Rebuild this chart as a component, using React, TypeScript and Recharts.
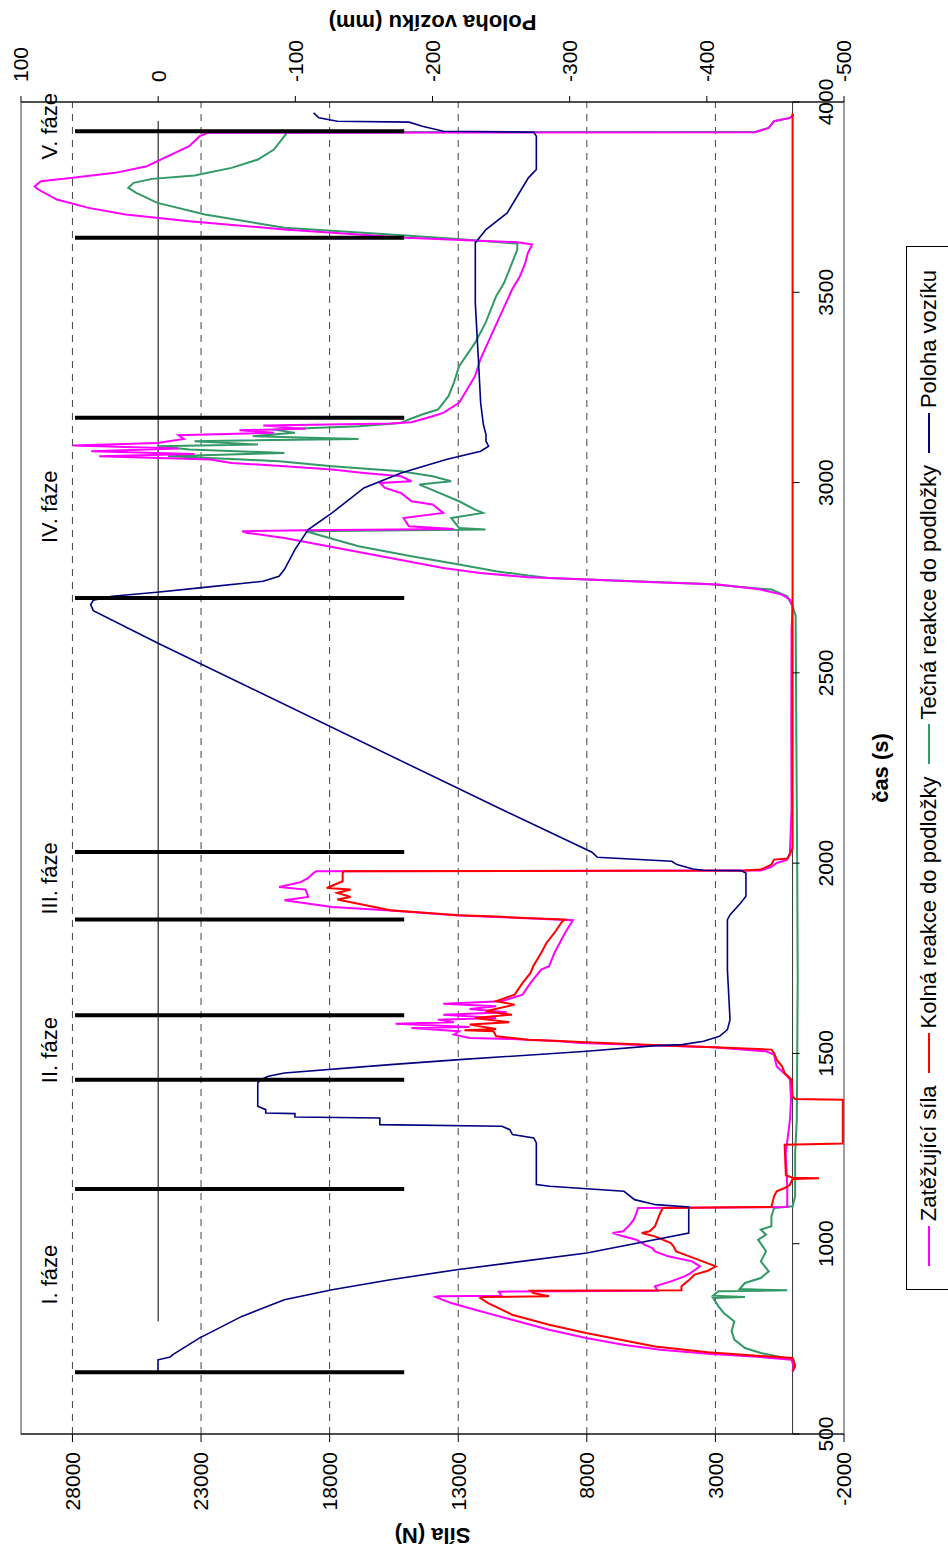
import React from 'react';
import {
  ComposedChart,
  Line,
  XAxis,
  YAxis,
  ReferenceLine,
  ReferenceArea,
  ReferenceDot,
  Legend,
} from 'recharts';

const FONT = '"Liberation Sans", Arial, Helvetica, sans-serif';

// ---------------- layout (original, un-rotated chart) ----------------
const W = 1553;
const H = 948;
const M_TOP = 21;
const PLOT_BOTTOM = 844;
const LEFT_W = 119;
const RIGHT_W = 102;
const X_H = H - PLOT_BOTTOM;

// ---------------- axes ----------------
const casDomain = [500, 4000];
const casTicks = [500, 1000, 1500, 2000, 2500, 3000, 3500, 4000];
const silaDomain = [-2000, 30000];
const silaTicks = [-2000, 3000, 8000, 13000, 18000, 23000, 28000];
const silaGrid = [3000, 8000, 13000, 18000, 23000, 28000];
const polohaDomain = [-500, 100];
const polohaTicks = [-500, -400, -300, -200, -100, 0, 100];

// ---------------- phases ----------------
const hraniceFazi = [662, 1144, 1431, 1600, 1852, 2029, 2697, 3170, 3643, 3923];
const faziOd = 15100;
const faziDo = 27900;
const fazeNazvy = ['I. fáze', 'II. fáze', 'III. fáze', 'IV. fáze', 'V. fáze'];
const fazeZacatek = [840, 1422, 1865, 2841, 3849];
const fazePopisekSila = 28600;
const nulovaPolohaUsek = [796, 3950];

// ---------------- series: [čas (s), hodnota] ----------------
const zatezujiciSila: [number, number][] = [
  [664.6, 0], [678, -40], [695, 40], [702, 1235], [711, 3290], [721.6, 5145], [734.7, 6586],
  [752, 8026], [774, 9467], [800, 10907], [826.7, 12348], [844, 13274], [860, 13890],
  [862, 13790], [863.5, 11320], [874, 11420], [876.6, 5250], [888, 5350], [901, 4730],
  [914, 4200], [921, 4010], [940.6, 3600], [953.7, 3910], [966.8, 4836], [980, 5350],
  [988.7, 5450], [997.5, 5760], [1010.6, 6070], [1019.4, 6586], [1028, 6997], [1032.5, 6586],
  [1045.7, 6380], [1063, 6174], [1080.7, 6070], [1093.9, 6009], [1096.5, 206], [1150, 206],
  [1238, 268], [1269, 206], [1326, 100], [1380, 60], [1431, 100], [1439.9, 206], [1453, 412],
  [1466, 617], [1496.8, 720], [1505.6, 1029], [1516, 3087], [1527.5, 8232], [1531.9, 9055],
  [1538, 10907], [1540.6, 12554], [1549.4, 13171], [1558.2, 12965], [1566.9, 14818],
  [1569.5, 12554], [1578.3, 15435], [1581.8, 13171], [1588.8, 13790], [1593.2, 11525],
  [1601.9, 13583], [1608, 11113], [1616.8, 12554], [1623.8, 11525], [1630.8, 13583],
  [1637, 11320], [1654.5, 10496], [1685.2, 10187], [1720.2, 9776], [1729, 9467], [1764, 9261],
  [1790.3, 9055], [1816.6, 8849], [1849.9, 8541], [1858.6, 11525], [1862.1, 12965],
  [1875.3, 15641], [1885, 17905], [1902.4, 19757], [1911.2, 18831], [1930.5, 18934],
  [1937.5, 19963], [1949.7, 19139], [1961.1, 18831], [1974.3, 18625], [1978.6, 18522],
  [1980.4, 1235], [1990, 823], [2000.5, 617], [2009.3, 206], [2026.8, 103], [2140.7, 41],
  [2350, 50], [2614, 40], [2675, 0], [2692.5, 103], [2705.6, 412], [2718.8, 1235],
  [2731.9, 2881], [2738, 5351], [2749.4, 9467], [2751.2, 10290], [2762.6, 12142],
  [2775.7, 13583], [2802, 15641], [2828.3, 17699], [2854.6, 19757], [2867.7, 21197],
  [2872.1, 21403], [2874.7, 18934], [2878.2, 13171], [2885.2, 14921], [2907.1, 15126],
  [2920.3, 13583], [2942.2, 13994], [2950.9, 14818], [2972.8, 15229], [2986, 15847],
  [2999.1, 16052], [3003.5, 14818], [3016.6, 15229], [3025.4, 16670], [3034.2, 17905],
  [3042.9, 19757], [3051.7, 21815], [3060.5, 22638], [3069.2, 26960], [3075.4, 23255],
  [3082.4, 27268], [3089.4, 23873], [3097.3, 27988], [3104.3, 24696], [3114.8, 23667],
  [3124.4, 23873], [3130.6, 20168], [3137.6, 21506], [3141.1, 18934], [3149.8, 20580],
  [3155.1, 15641], [3158.6, 14818], [3174.4, 13994], [3183.1, 13583], [3209.4, 12965],
  [3279.5, 12348], [3323.3, 12142], [3384.6, 11731], [3445.9, 11319], [3507.2, 10907],
  [3542.3, 10599], [3577.3, 10393], [3603.6, 10290], [3625.5, 10125], [3631.6, 10700],
  [3643, 15023], [3664.9, 19757], [3686.8, 23461], [3704.3, 25931], [3721.8, 27371],
  [3743.7, 28606], [3770, 29327], [3778.8, 29471], [3791.9, 29224], [3800.7, 27988],
  [3813.8, 26342], [3831.3, 25108], [3857.6, 24284], [3883.9, 23461], [3910.2, 23050],
  [3918.9, 22741], [3920.7, 1441], [3932.1, 926], [3949.6, 720], [3958.3, 103], [3967.1, -41],
];

const kolnaReakce: [number, number][] = [
  [664.6, 0], [678, -100], [700, 0], [706.7, 1650], [714.6, 3290], [730, 5350], [765.4, 8026],
  [787, 9467], [813.5, 10907], [844, 11835], [857.3, 12140], [860, 12040], [861.7, 9467],
  [870.5, 10080], [876.6, 10190], [877.5, 4320], [888, 4320], [905.5, 4010], [918.7, 3810],
  [929, 3290], [940.6, 2984], [953.7, 3499], [966.8, 4013], [980, 4528], [993, 4631],
  [1001.9, 4733], [1019.4, 5351], [1028, 5865], [1032.5, 5557], [1045.7, 5351], [1063, 5248],
  [1080.7, 5145], [1093.9, 5042], [1096.5, 823], [1124.5, 720], [1137.7, 617], [1146.4, 309],
  [1155, 103], [1170, 0], [1172, -1029], [1173.5, 0], [1180, 260], [1260, 309], [1263, -1955],
  [1378.6, -1955], [1380.3, -100], [1387.3, 0], [1431, 41], [1448.6, 309], [1466, 412],
  [1483.7, 617], [1501.2, 720], [1510, 823], [1517, 3293], [1520.5, 4733], [1529.2, 8026],
  [1533.6, 9261], [1536.2, 10290], [1545, 11525], [1558.2, 11628], [1560.8, 12760],
  [1564.3, 11525], [1575.7, 12554], [1581.8, 11010], [1593.2, 12348], [1601.9, 10907],
  [1610.7, 11936], [1628.2, 10805], [1637, 11525], [1654.5, 10805], [1685.2, 10496],
  [1711.4, 10187], [1729, 10084], [1764, 9776], [1790.3, 9570], [1816.6, 9261],
  [1847.2, 8952], [1851.6, 8849], [1859.5, 11525], [1863, 12965], [1876.1, 15641],
  [1904.2, 17699], [1911.2, 17184], [1921.7, 17699], [1930.5, 17184], [1934.8, 18110],
  [1952.4, 17493], [1974.3, 17493], [1978.6, 17452], [1980.4, 1852], [1983, 1235],
  [1996.2, 823], [2009.3, 720], [2011.9, 206], [2022.4, 103], [2040, 0], [3970, 0],
];

const tecnaReakce: [number, number][] = [
  [664.6, 0], [678, -100], [695, -40], [702, 410], [712.8, 1235], [726, 1850], [748, 2265],
  [770, 2370], [796, 2265], [818, 2675], [835.4, 2880], [857.4, 3090], [860, 1850],
  [863.5, 3090], [874.9, 2880], [877.5, 205], [881, 2058], [896.8, 1850], [909.9, 1235],
  [927.4, 926], [953.7, 1235], [980, 1029], [1010.6, 1338], [1023.8, 1029], [1036.9, 1235],
  [1045.7, 823], [1072, 823], [1093.9, 720], [1098.2, 0], [1124.5, -100], [1238.4, -100],
  [1326, -165], [1700, -200], [2000, -180], [2300, -150], [2650, -120], [2675, 0],
  [2701.3, 206], [2718.8, 823], [2733.7, 3293], [2749.4, 9467], [2755.6, 10290],
  [2767, 11525], [2784.5, 12965], [2806.4, 14818], [2832.7, 16876], [2872.1, 18934],
  [2876.5, 11936], [2880.8, 12965], [2907.1, 13274], [2920.3, 12039], [2929, 12348],
  [2950.9, 12965], [2986, 14200], [2994.7, 14509], [3003.5, 13274], [3016.6, 13994],
  [3029.8, 15229], [3042.9, 17905], [3056, 19963], [3060.5, 21403], [3069.2, 24284],
  [3078, 19757], [3086.8, 23461], [3095.5, 24696], [3099.9, 20786], [3108.7, 23255],
  [3114.8, 16876], [3121.8, 20992], [3130.6, 19345], [3139.3, 20168], [3148.1, 16876],
  [3156.8, 15229], [3165.6, 14921], [3178.7, 14406], [3191.9, 13789], [3226.9, 13377],
  [3262, 13171], [3305.8, 12965], [3367.1, 12348], [3419.6, 11936], [3489.7, 11525],
  [3524.8, 11216], [3559.8, 11010], [3577.3, 10907], [3612.3, 10702], [3628, 10702],
  [3640.4, 13171], [3651.7, 15641], [3669.3, 19757], [3704.3, 22844], [3735, 24696],
  [3761.2, 25519], [3774.4, 25828], [3787.5, 25622], [3798, 24902], [3806.8, 23255],
  [3826.9, 21815], [3848.8, 20786], [3875.1, 20168], [3910.2, 19757], [3920.7, 19654],
  [3921.5, 1441], [3932.1, 926], [3949.6, 720], [3958.3, 103], [3967.1, -41],
];

const polohaVoziku: [number, number][] = [
  [664.6, 0.1], [695, 0.1], [702, -8.8], [708.4, -10.7], [752, -30], [809, -61], [853, -92],
  [879.2, -126.8], [905.5, -169.3], [931.8, -217.7], [975.6, -312.5], [1028, -386.8],
  [1096.5, -386.8], [1102.6, -362.8], [1115.8, -347.3], [1137.7, -339.6], [1150.8, -285.4],
  [1155.2, -275.7], [1264.7, -275.7], [1277.8, -273.8], [1286.6, -258.3], [1299.7, -256.4],
  [1308.5, -250.6], [1312.9, -161.6], [1330.4, -161.6], [1333, -99.7], [1341.8, -99.7],
  [1343.5, -78.4], [1352.3, -78.4], [1361, -72.6], [1422.4, -72.6], [1431.1, -74.6],
  [1439.9, -80.4], [1448.6, -92], [1470.6, -169.3], [1483.7, -219.6], [1505.6, -312.5],
  [1520.5, -362.8], [1523.1, -382.1], [1531.9, -397.6], [1545, -409.2], [1562.5, -415],
  [1588.8, -416.9], [1720.2, -415], [1851.6, -415], [1864.8, -417], [1895.4, -424.7],
  [1912.9, -428.5], [1974.3, -428.5], [1980.4, -424.7], [1981.3, -397.6], [1984.8, -389.9],
  [1996.2, -378.2], [2005, -374.4], [2015.4, -320.2], [2028.6, -316.3], [2140.7, -250.6],
  [2577, -0.3], [2663.6, 47.3], [2679.4, 49.2], [2690.7, 47.3], [2701.3, 33.7],
  [2711.8, 0.9], [2723.2, -30.1], [2740.7, -76.5], [2753.8, -88.1], [2771.4, -92],
  [2823.9, -99.7], [2876.5, -109.4], [2920.3, -126.8], [2986, -150], [3025.4, -177.1],
  [3060.4, -210], [3082.4, -235.1], [3095.5, -240.9], [3108.7, -239], [3126.2, -239],
  [3152.5, -237.1], [3209.4, -235.1], [3340.8, -233.2], [3472.2, -231.2], [3629.8, -231.2],
  [3664.9, -239], [3708.7, -254.5], [3800.7, -269.9], [3822.6, -275.7], [3910.2, -275.7],
  [3920.7, -273.8], [3923.3, -208], [3936.4, -192.6], [3947, -182.9], [3949.6, -130.7],
  [3958.3, -117.1], [3971.5, -113.3],
];

const legendItems = [
  { name: 'Zatěžující síla', color: '#FF00FF' },
  { name: 'Kolná reakce do podložky', color: '#FF0000' },
  { name: 'Tečná reakce do podložky', color: '#339966' },
  { name: 'Poloha vozíku', color: '#000080' },
];

const toRows = (arr: [number, number][]) => arr.map(([t, v]) => ({ t, v }));

const ZERO_Y =
  M_TOP + ((silaDomain[1] - 0) / (silaDomain[1] - silaDomain[0])) * (PLOT_BOTTOM - M_TOP);

function TimeTick(props: any) {
  const { x, payload } = props;
  return (
    <g>
      <line x1={x} x2={x} y1={ZERO_Y} y2={ZERO_Y + 7} stroke="#000" strokeWidth={1} />
      <text x={x} y={ZERO_Y + 40} textAnchor="middle" fontSize={21} fontFamily={FONT} fill="#000">
        {payload.value}
      </text>
    </g>
  );
}

function LegendBox() {
  return (
    <div
      style={{
        boxSizing: 'border-box',
        border: '1px solid #000',
        height: 46,
        background: '#fff',
        display: 'flex',
        alignItems: 'center',
        justifyContent: 'center',
        fontFamily: FONT,
        fontSize: 22,
        color: '#000',
        whiteSpace: 'nowrap',
      }}
    >
      {legendItems.map((it) => (
        <div key={it.name} style={{ display: 'flex', alignItems: 'center', margin: '0 6px' }}>
          <div style={{ width: 40, height: 2, background: it.color, marginRight: 5 }} />
          <span>{it.name}</span>
        </div>
      ))}
    </div>
  );
}

const titleStyle = { fontFamily: FONT, fontSize: 22, fontWeight: 'bold' as const, fill: '#000' };

export default function App() {
  return (
    <div style={{ position: 'absolute', left: 0, top: 0, width: 948, height: 1553, overflow: 'hidden', background: '#fff' }}>
      <div
        style={{
          position: 'absolute',
          left: 0,
          top: 0,
          width: W,
          height: H,
          transformOrigin: '0 0',
          transform: `translateY(${W}px) rotate(-90deg)`,
          fontFamily: FONT,
        }}
      >
        <ComposedChart width={W} height={H} margin={{ top: M_TOP, right: 0, bottom: 0, left: 0 }}>
          <XAxis
            xAxisId="cas"
            type="number"
            dataKey="t"
            domain={casDomain}
            ticks={casTicks}
            allowDataOverflow
            height={X_H}
            axisLine={false}
            tickLine={false}
            tick={<TimeTick />}
            interval={0}
            label={(p: any) => {
              const vb = p.viewBox || {};
              return (
                <text x={vb.x + vb.width / 2} y={vb.y + 44} textAnchor="middle" {...titleStyle}>
                  čas (s)
                </text>
              );
            }}
          />
          <YAxis
            yAxisId="sila"
            type="number"
            domain={silaDomain}
            ticks={silaTicks}
            allowDataOverflow
            width={LEFT_W}
            interval={0}
            axisLine={{ stroke: '#000' }}
            tickLine={{ stroke: '#000' }}
            tickSize={8}
            tickMargin={10}
            tick={{ fill: '#000', fontSize: 21, fontFamily: FONT }}
            label={(p: any) => {
              const vb = p.viewBox || {};
              const cx = vb.x + 18;
              const cy = vb.y + vb.height / 2;
              return (
                <text x={cx} y={cy} transform={`rotate(-90 ${cx} ${cy})`} textAnchor="middle" dominantBaseline="central" {...titleStyle}>
                  Síla (N)
                </text>
              );
            }}
          />
          <YAxis
            yAxisId="poloha"
            orientation="right"
            type="number"
            domain={polohaDomain}
            ticks={polohaTicks}
            allowDataOverflow
            width={RIGHT_W}
            interval={0}
            axisLine={{ stroke: '#000' }}
            tickLine={{ stroke: '#000' }}
            tickSize={6}
            tickMargin={14}
            tick={{ fill: '#000', fontSize: 21, fontFamily: FONT }}
            label={(p: any) => {
              const vb = p.viewBox || {};
              const cx = vb.x + 80;
              const cy = vb.y + vb.height / 2;
              return (
                <text x={cx} y={cy} transform={`rotate(-90 ${cx} ${cy})`} textAnchor="middle" dominantBaseline="central" {...titleStyle}>
                  Poloha vozíku (mm)
                </text>
              );
            }}
          />

          <ReferenceArea
            xAxisId="cas"
            yAxisId="sila"
            x1={casDomain[0]}
            x2={casDomain[1]}
            y1={silaDomain[0]}
            y2={silaDomain[1]}
            fill="none"
            stroke="#808080"
            strokeWidth={1.5}
            ifOverflow="visible"
          />
          {silaGrid.map((v) => (
            <ReferenceLine key={'g' + v} xAxisId="cas" yAxisId="sila" y={v} stroke="#444" strokeDasharray="7 6" />
          ))}
          <ReferenceLine xAxisId="cas" yAxisId="sila" y={0} stroke="#333" strokeWidth={1} />
          <ReferenceLine
            xAxisId="cas"
            yAxisId="poloha"
            segment={[
              { x: nulovaPolohaUsek[0], y: 0 },
              { x: nulovaPolohaUsek[1], y: 0 },
            ]}
            stroke="#000"
            strokeWidth={1}
          />

          <Line xAxisId="cas" yAxisId="sila" data={toRows(tecnaReakce)} dataKey="v" type="linear" stroke="#339966" strokeWidth={2} dot={false} isAnimationActive={false} name="Tečná reakce do podložky" />
          <Line xAxisId="cas" yAxisId="sila" data={toRows(zatezujiciSila)} dataKey="v" type="linear" stroke="#FF00FF" strokeWidth={2} dot={false} isAnimationActive={false} name="Zatěžující síla" />
          <Line xAxisId="cas" yAxisId="sila" data={toRows(kolnaReakce)} dataKey="v" type="linear" stroke="#FF0000" strokeWidth={2} dot={false} isAnimationActive={false} name="Kolná reakce do podložky" />
          <Line xAxisId="cas" yAxisId="poloha" data={toRows(polohaVoziku)} dataKey="v" type="linear" stroke="#000080" strokeWidth={1.6} dot={false} isAnimationActive={false} name="Poloha vozíku" />

          {hraniceFazi.map((t) => (
            <ReferenceLine
              key={'f' + t}
              xAxisId="cas"
              yAxisId="sila"
              segment={[
                { x: t, y: faziOd },
                { x: t, y: faziDo },
              ]}
              stroke="#000"
              strokeWidth={4}
            />
          ))}
          {fazeNazvy.map((name, i) => (
            <ReferenceDot
              key={name}
              xAxisId="cas"
              yAxisId="sila"
              x={fazeZacatek[i]}
              y={fazePopisekSila}
              r={1}
              fill="none"
              stroke="none"
              ifOverflow="visible"
              label={(p: any) => {
                const vb = p.viewBox || {};
                return (
                  <text x={vb.x + 1} y={vb.y + 1} textAnchor="start" fontFamily={FONT} fontSize={22} fill="#000">
                    {name}
                  </text>
                );
              }}
            />
          ))}

          <Legend
            layout="horizontal"
            verticalAlign="middle"
            align="center"
            wrapperStyle={{ left: 263, top: 906, width: 1044 }}
            content={() => <LegendBox />}
          />
        </ComposedChart>
      </div>
    </div>
  );
}
